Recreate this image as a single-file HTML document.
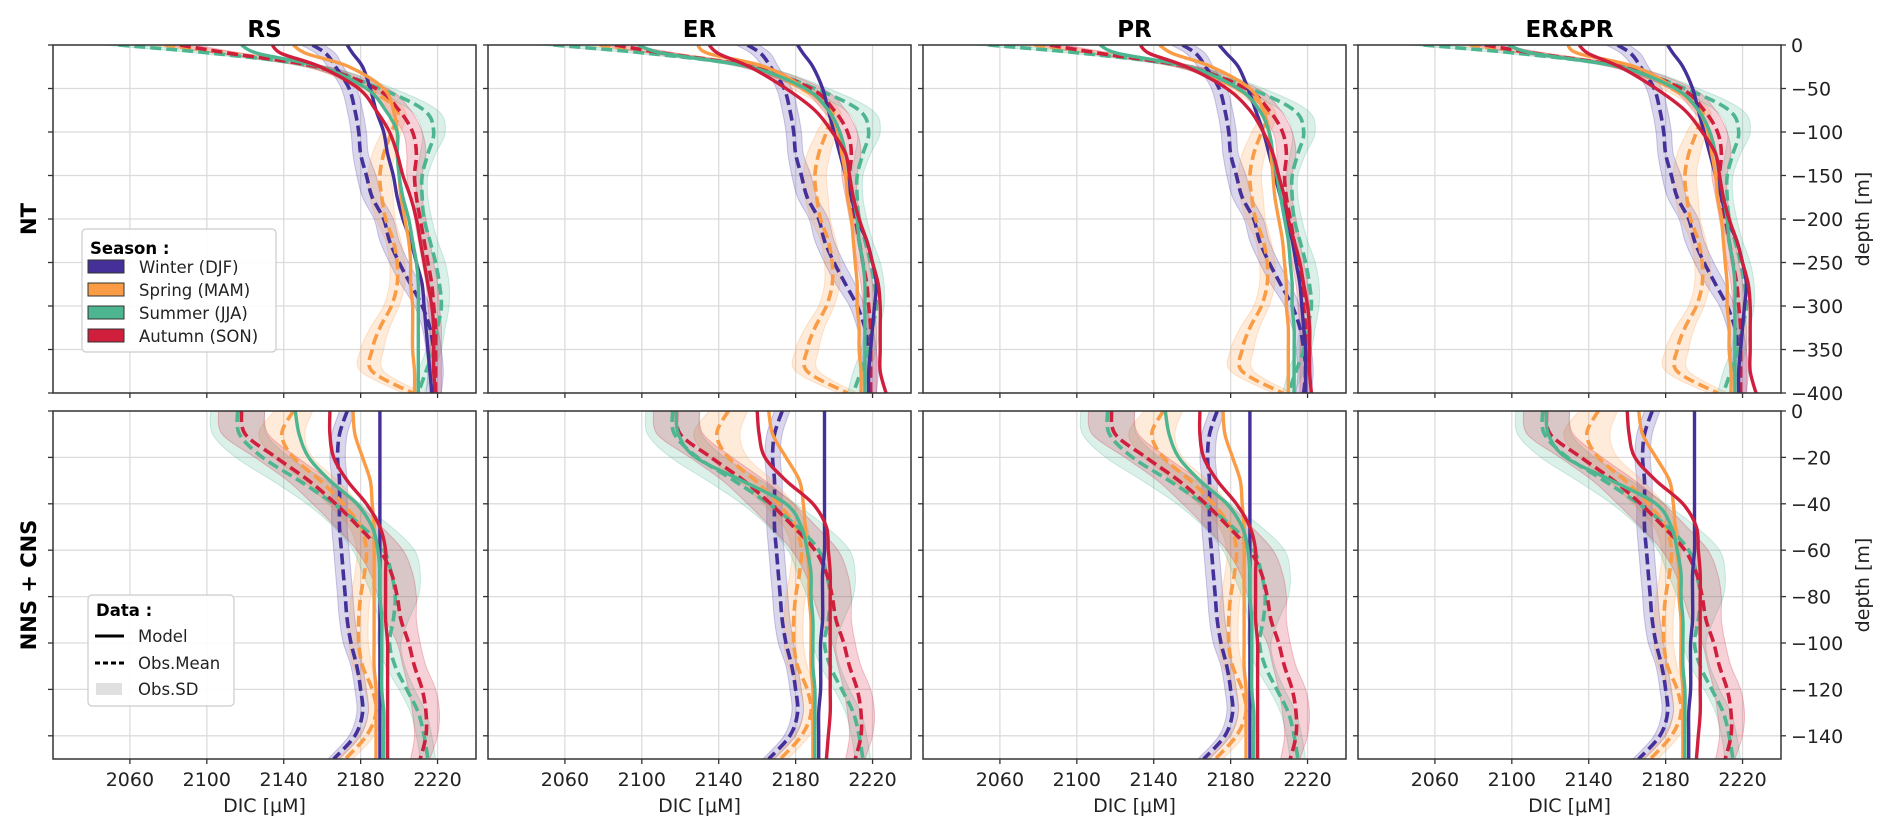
<!DOCTYPE html>
<html><head><meta charset="utf-8">
<style>
html,body{margin:0;padding:0;background:#fff;}
svg{display:block;font-family:"DejaVu Sans","Liberation Sans",sans-serif;}
</style></head>
<body>
<svg id="fig" width="1892" height="834" viewBox="0 0 1892 834" xmlns="http://www.w3.org/2000/svg"></svg>
<script>
// ---------- data ----------
const columns = ["RS","ER","PR","ER&PR"];
const seasons = ["Winter (DJF)","Spring (MAM)","Summer (JJA)","Autumn (SON)"];
const xTicks = [2060,2100,2140,2180,2220];
const depthTop = [0,-10,-25,-50,-75,-100,-125,-150,-175,-200,-225,-250,-275,-300,-325,-350,-375,-400];
const depthBot = [0,-10,-20,-30,-40,-50,-60,-70,-80,-90,-100,-110,-120,-130,-140,-150];
const yTicksTop = [0,-50,-100,-150,-200,-250,-300,-350,-400];
const yTicksBot = [0,-20,-40,-60,-80,-100,-120,-140];

// observations, NT (top row)
const obsTopWinter = [2155,2162,2167,2174,2177,2179,2180,2183,2186,2192,2195,2200,2206,2212,2216,2218,2219,2218];
const obsTopSpring = [2078,2113,2157,2183,2199,2196,2192,2190,2191,2193,2197,2199,2199,2196,2190,2186,2186,2207];
const obsTopSummer = [2054,2105,2157,2190,2213,2218,2215,2212,2212,2213,2216,2219,2221,2222,2220,2218,2214,2210];
const obsTopAutumn = [2086,2113,2157,2188,2200,2207,2209,2208,2209,2211,2213,2215,2217,2218,2219,2219,2219,2219];
const sdTopWinter = [6,5,4,4,4,4,4,5,5,5,5,5,5,4,4,4,4,4];
const sdTopSpring = [8,7,5,5,4,5,6,6,6,5,4,4,4,4,5,6,6,5];
const sdTopSummer = [8,7,6,7,7,6,4,3,3,4,4,5,5,4,4,4,4,3];
const sdTopAutumn = [8,7,6,6,6,5,5,4,3,3,3,3,3,3,3,3,3,3];
// observations, NNS + CNS (bottom row)
const obsBotWinter = [2173,2169,2168,2169,2169,2169,2170,2171,2172,2173,2175,2178,2180,2181,2177,2166];
const obsBotSpring = [2145,2139,2145,2159,2171,2180,2183,2182,2180,2179,2179,2181,2186,2188,2183,2172];
const obsBotSummer = [2116,2117,2129,2148,2166,2181,2192,2196,2198,2197,2195,2198,2204,2210,2213,2215];
const obsBotAutumn = [2118,2120,2136,2153,2167,2179,2190,2196,2199,2201,2205,2208,2212,2214,2214,2211];
const sdBotWinter = [4,4,4,4,4,4,4,4,4,4,4,3,3,3,3,3];
const sdBotSpring = [10,12,10,9,8,6,5,5,5,5,5,5,4,4,4,4];
const sdBotSummer = [14,14,14,14,14,15,16,15,12,8,6,5,4,4,4,4];
const sdBotAutumn = [12,12,11,11,12,12,12,11,10,8,6,6,7,7,6,5];

// model, NT
const modTopRS = [
 [2173,2176,2181,2185,2188,2192,2194,2197,2199,2202,2206,2209,2212,2213,2214,2215,2216,2217],
 [2145,2152,2174,2192,2197,2199,2199,2200,2201,2203,2205,2206,2206,2207,2207,2207,2208,2208],
 [2118,2127,2159,2183,2193,2199,2199,2200,2202,2205,2207,2209,2210,2210,2210,2210,2210,2210],
 [2134,2139,2159,2179,2188,2195,2199,2202,2206,2209,2211,2213,2215,2217,2218,2218,2218,2219]];
const modTopER = [
 [2181,2184,2189,2194,2197,2200,2203,2206,2209,2212,2217,2220,2222,2221,2220,2219,2218,2218],
 [2129,2135,2164,2185,2197,2202,2204,2206,2207,2209,2210,2211,2212,2212,2213,2213,2214,2214],
 [2098,2112,2156,2185,2197,2203,2206,2208,2210,2212,2213,2215,2216,2216,2216,2216,2216,2216],
 [2135,2140,2156,2175,2190,2199,2206,2208,2210,2213,2217,2220,2223,2224,2224,2224,2224,2227]];
const modTopPR = [
 [2174,2178,2184,2189,2193,2197,2200,2203,2206,2209,2212,2214,2216,2217,2218,2219,2219,2219],
 [2143,2150,2170,2190,2197,2200,2201,2202,2203,2205,2207,2208,2209,2209,2210,2210,2210,2210],
 [2112,2122,2158,2184,2195,2200,2202,2204,2206,2208,2210,2211,2212,2212,2213,2213,2213,2213],
 [2133,2138,2157,2178,2190,2197,2202,2205,2208,2210,2213,2216,2218,2220,2221,2221,2221,2222]];
// model, NNS + CNS
const modBotRS = [
 [2190,2190,2190,2190,2190,2190,2190,2190,2190,2190,2190,2190,2190,2190,2190,2190],
 [2176,2177,2181,2185,2186,2187,2187,2187,2187,2187,2187,2187,2188,2188,2188,2188],
 [2146,2148,2153,2164,2178,2186,2189,2190,2190,2191,2191,2191,2191,2192,2192,2192],
 [2164,2164,2166,2173,2183,2190,2193,2193,2193,2193,2194,2194,2194,2194,2194,2194]];
const modBotER = [
 [2195,2195,2195,2195,2195,2195,2195,2194,2194,2194,2193,2193,2193,2192,2192,2192],
 [2166,2168,2175,2182,2184,2185,2186,2187,2187,2188,2188,2188,2189,2189,2189,2189],
 [2118,2119,2128,2152,2175,2183,2186,2188,2188,2189,2189,2189,2190,2190,2190,2190],
 [2160,2161,2164,2175,2189,2196,2197,2198,2198,2198,2198,2198,2198,2198,2197,2196]];

const obsTop = [obsTopWinter,obsTopSpring,obsTopSummer,obsTopAutumn];
const sdTop = [sdTopWinter,sdTopSpring,sdTopSummer,sdTopAutumn];
const obsBot = [obsBotWinter,obsBotSpring,obsBotSummer,obsBotAutumn];
const sdBot = [sdBotWinter,sdBotSpring,sdBotSummer,sdBotAutumn];
const modTop = [modTopRS, modTopER, modTopPR, modTopER];
const modBot = [modBotRS, modBotER, modBotRS, modBotER];

// ---------- layout ----------
const colors = ["#45309a","#fa9c46","#4db590","#d01f3c"];
const NS = "http://www.w3.org/2000/svg";
const svg = document.getElementById('fig');
const colLeft = [53,488,923,1358];
const PW = 423;
const rowTop = [45,411], PH = 348;
const XMIN = 2020, XMAX = 2240;

function mk(tag, attrs, parent){
  const e = document.createElementNS(NS, tag);
  for (const k in attrs) e.setAttribute(k, attrs[k]);
  (parent||svg).appendChild(e);
  return e;
}
function smooth(pts){
  let d = "M"+pts[0][0].toFixed(1)+","+pts[0][1].toFixed(1);
  for (let i=0;i<pts.length-1;i++){
    const p0=pts[Math.max(0,i-1)], p1=pts[i], p2=pts[i+1], p3=pts[Math.min(pts.length-1,i+2)];
    const c1x=p1[0]+(p2[0]-p0[0])/6, c1y=p1[1]+(p2[1]-p0[1])/6;
    const c2x=p2[0]-(p3[0]-p1[0])/6, c2y=p2[1]-(p3[1]-p1[1])/6;
    d += " C"+c1x.toFixed(1)+","+c1y.toFixed(1)+" "+c2x.toFixed(1)+","+c2y.toFixed(1)+" "+p2[0].toFixed(1)+","+p2[1].toFixed(1);
  }
  return d;
}
function smoothCont(pts){ return smooth(pts).replace(/^M/,"L"); }

for (let r=0;r<2;r++){
  const depths = r===0?depthTop:depthBot;
  const ymin = r===0?-400:-150;
  const yt = r===0?yTicksTop:yTicksBot;
  for (let c=0;c<4;c++){
    const L=colLeft[c], T=rowTop[r];
    const sx = v => L + (v-XMIN)/(XMAX-XMIN)*PW;
    const sy = d => T + (0-d)/(0-ymin)*PH;
    const g = mk('g',{});
    
    
    const cid='clip'+r+c;
    const cp = mk('clipPath',{id:cid},g); mk('rect',{x:L,y:T,width:PW,height:PH},cp);
    xTicks.forEach(v=>{ const l=mk('line',{x1:sx(v),x2:sx(v),y1:T,y2:T+PH,stroke:'#dcdcdc','stroke-width':1.3},g);
        });
    yt.forEach(v=>{ const l=mk('line',{x1:L,x2:L+PW,y1:sy(v),y2:sy(v),stroke:'#dcdcdc','stroke-width':1.3},g);
        });
    const pg = mk('g',{'clip-path':'url(#'+cid+')'},g);
    const obs = r===0?obsTop:obsBot, sd = r===0?sdTop:sdBot, mod = r===0?modTop[c]:modBot[c];
    for (let s=0;s<4;s++){
      const left = depths.map((d,i)=>[sx(obs[s][i]-sd[s][i]), sy(d)]);
      const right = depths.map((d,i)=>[sx(obs[s][i]+sd[s][i]), sy(d)]).reverse();
      const b = mk('path',{d:smooth(left)+" "+smoothCont(right)+" Z",fill:colors[s],'fill-opacity':0.2,stroke:colors[s],'stroke-opacity':0.25,'stroke-width':1},pg);
      
      
    }
    for (let s=0;s<4;s++){
      const p = mk('path',{d:smooth(depths.map((d,i)=>[sx(obs[s][i]),sy(d)])),fill:'none',stroke:colors[s],'stroke-width':3.6,'stroke-dasharray':'11,5'},pg);
      
      
    }
    for (let s=0;s<4;s++){
      const p = mk('path',{d:smooth(depths.map((d,i)=>[sx(mod[s][i]),sy(d)])),fill:'none',stroke:colors[s],'stroke-width':3.4},pg);
      
      
    }
    const fr = mk('rect',{x:L,y:T,width:PW,height:PH,fill:'none',stroke:'#333','stroke-width':1.5},g);
     
    yt.forEach(v=>{ mk('line',{x1:L-5,x2:L,y1:sy(v),y2:sy(v),stroke:'#333','stroke-width':1.3},g);
      if (c===3){
        mk('line',{x1:L+PW,x2:L+PW+5,y1:sy(v),y2:sy(v),stroke:'#333','stroke-width':1.3},g);
        const t = mk('text',{x:L+PW+10,y:sy(v)+7,'font-size':19,fill:'#222'},g);
        t.textContent = (v<0?'\u2212'+(-v):''+v);
         
      }});
    xTicks.forEach(v=>{ mk('line',{x1:sx(v),x2:sx(v),y1:T+PH,y2:T+PH+5,stroke:'#333','stroke-width':1.3},g);
      if (r===1){ const t=mk('text',{x:sx(v),y:T+PH+27,'font-size':19,'text-anchor':'middle',fill:'#222'},g);
        t.textContent=v;   }});
    if (r===0){
      const t=mk('text',{x:L+PW/2,y:37,'font-size':23,'font-weight':'bold','text-anchor':'middle',fill:'#000'},g);
      t.textContent=columns[c];  
    } else {
      const t=mk('text',{x:L+PW/2,y:812,'font-size':19,'text-anchor':'middle',fill:'#222'},g);
      t.textContent='DIC [\u03BCM]';  
    }
    if (c===3){
      const t=mk('text',{x:0,y:0,'font-size':19,'text-anchor':'middle',fill:'#222',transform:'translate(1869,'+(T+PH/2)+') rotate(-90)'},g);
      t.textContent='depth [m]';  
    }
  }
}
[['NT',219],['NNS + CNS',585]].forEach(([txt,y])=>{
  const t=mk('text',{x:0,y:0,'font-size':21,'font-weight':'bold','text-anchor':'middle',fill:'#000',transform:'translate(36,'+y+') rotate(-90)'});
  t.textContent=txt;  
});
const lg = mk('g',{});
 
mk('rect',{x:82,y:229,width:194,height:123,rx:4,fill:'#fff','fill-opacity':0.9,stroke:'#ccc','stroke-width':1.2},lg);
let tt=mk('text',{x:90,y:254,'font-size':16.5,'font-weight':'bold',fill:'#000'},lg); tt.textContent='Season :';
seasons.forEach((s,i)=>{
  const y=267+i*23;
  const rct=mk('rect',{x:88,y:y-7,width:36,height:13,fill:colors[i],stroke:'#333','stroke-width':1},lg);
   
  const t=mk('text',{x:139,y:y+6,'font-size':16.5,fill:'#222'},lg); t.textContent=s;
   
});
const lg2 = mk('g',{});
 
mk('rect',{x:88,y:595,width:146,height:111,rx:4,fill:'#fff','fill-opacity':0.9,stroke:'#ccc','stroke-width':1.2},lg2);
tt=mk('text',{x:96,y:616,'font-size':16.5,'font-weight':'bold',fill:'#000'},lg2); tt.textContent='Data :';
mk('line',{x1:95,x2:124,y1:636,y2:636,stroke:'#000','stroke-width':3},lg2);
mk('line',{x1:95,x2:124,y1:663,y2:663,stroke:'#000','stroke-width':3,'stroke-dasharray':'5,3'},lg2);
mk('rect',{x:96,y:683,width:26,height:12,fill:'#e0e0e0'},lg2);
[['Model',642],['Obs.Mean',669],['Obs.SD',695]].forEach(([s,y])=>{
  const t=mk('text',{x:138,y:y,'font-size':16.5,fill:'#222'},lg2); t.textContent=s;
   
});
</script>
</body></html>
